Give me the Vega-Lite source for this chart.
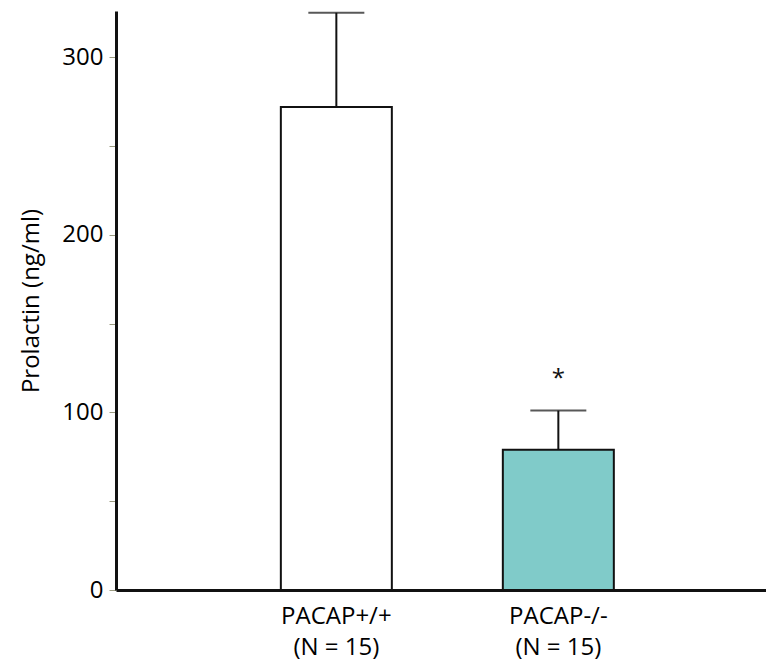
{
  "$schema": "https://vega.github.io/schema/vega-lite/v6.json",
  "width": 650,
  "height": 579,
  "autosize": {"type": "none"},
  "padding": {"left": 116, "top": 11, "right": 0, "bottom": 78},
  "background": "white",
  "config": {
    "view": {"stroke": null},
    "font": "Open Sans"
  },
  "data": {
    "values": [
      {"group": "PACAP+/+|(N = 15)", "mean": 272, "upper": 325, "sig": "", "fill": "wt"},
      {"group": "PACAP-/-|(N = 15)", "mean": 79, "upper": 101, "sig": "*", "fill": "ko"}
    ]
  },
  "encoding": {
    "x": {
      "field": "group",
      "type": "nominal",
      "sort": null,
      "scale": {"paddingInner": 0.5, "paddingOuter": 0.714, "align": 0.52},
      "axis": {
        "title": null,
        "labelAngle": 0,
        "labelExpr": "split(datum.label, '|')",
        "labelFontSize": 24,
        "labelColor": "#000",
        "labelLineHeight": 31,
        "labelPadding": 14,
        "labelBaseline": "top",
        "ticks": false,
        "domainWidth": 3,
        "domainColor": "#111"
      }
    }
  },
  "layer": [
    {
      "mark": {"type": "rule", "stroke": "#111", "strokeWidth": 2},
      "encoding": {
        "y": {"field": "mean", "type": "quantitative"},
        "y2": {"field": "upper"}
      }
    },
    {
      "mark": {"type": "tick", "orient": "horizontal", "size": 56, "thickness": 2, "color": "#111"},
      "encoding": {
        "y": {"field": "upper", "type": "quantitative"}
      }
    },
    {
      "mark": {"type": "bar", "stroke": "#111", "strokeWidth": 2},
      "encoding": {
        "y": {
          "field": "mean",
          "type": "quantitative",
          "scale": {"domain": [0, 326], "nice": false},
          "axis": {
            "title": "Prolactin (ng/ml)",
            "titleFontSize": 24,
            "titleFontWeight": "normal",
            "titleColor": "#000",
            "titlePadding": 18,
            "values": [0, 50, 100, 150, 200, 250, 300],
            "labelExpr": "datum.value % 100 == 0 ? datum.label : ''",
            "labelFontSize": 24,
            "labelColor": "#000",
            "labelPadding": 6,
            "tickSize": 7,
            "tickColor": "#9a9a80",
            "tickWidth": 1,
            "grid": false,
            "domainWidth": 3,
            "domainColor": "#111"
          }
        },
        "fill": {
          "field": "fill",
          "type": "nominal",
          "scale": {"domain": ["wt", "ko"], "range": ["#ffffff", "#80cbc9"]},
          "legend": null
        }
      }
    },
    {
      "mark": {"type": "text", "fontSize": 24, "baseline": "middle", "dy": 4, "color": "#111"},
      "encoding": {
        "y": {"datum": 121, "type": "quantitative"},
        "text": {"field": "sig"}
      }
    }
  ]
}
